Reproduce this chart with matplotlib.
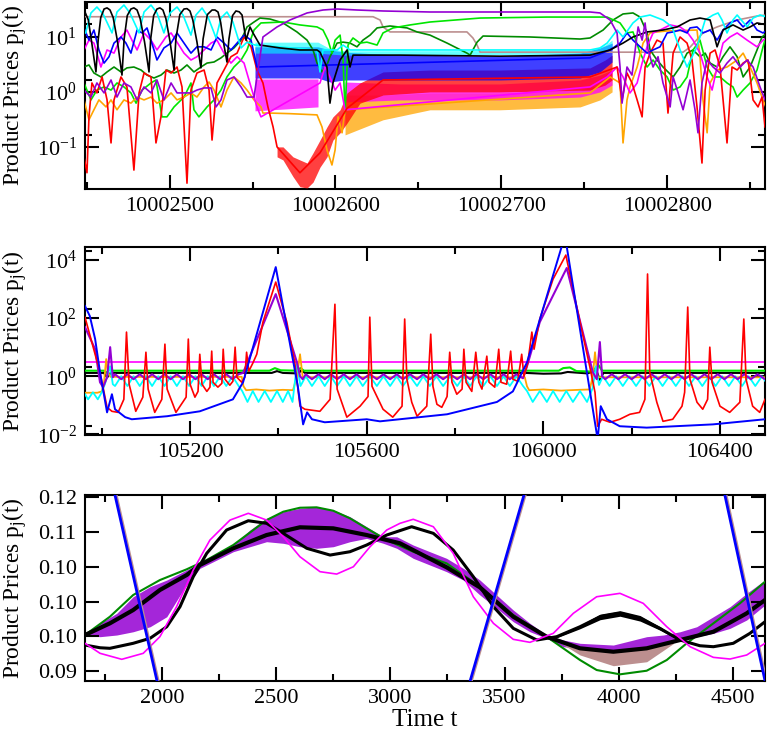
import numpy as np
import matplotlib
matplotlib.use('Agg')
import matplotlib.pyplot as plt
from matplotlib.ticker import (FixedLocator, FixedFormatter, MultipleLocator,
                               FormatStrFormatter, NullFormatter)

plt.rcParams['font.family'] = ['Liberation Serif', 'DejaVu Serif']
plt.rcParams['mathtext.fontset'] = 'custom'
plt.rcParams['mathtext.rm'] = 'Liberation Serif'
plt.rcParams['mathtext.it'] = 'Liberation Serif:italic'

# xmgrace-like colours
BLACK, RED, LIME, BLUE = 'black', '#ff0000', '#00e600', '#0000ff'
ROSY, PURPLE, CYAN, MAGENTA = '#bc8f8f', '#9400d3', '#00ffff', '#ff00ff'
ORANGE, DKGREEN = '#ffa500', '#008b00'

# ---------------- panel 1 : t = T0 + offset, prices (log) ----------------
T0 = 10002400
p1_rosy = np.array([(49, 22.8), (222.7, 22.8), (226.9, 19.9), (228.7, 14.9), (232.9, 12.1),
                    (279.3, 12.1), (282.9, 9.4), (285.4, 7.0), (287.2, 5.2), (409.6, 5.2),
                    (413.8, 6.4), (421.6, 11.6), (430.1, 14.9), (442.2, 19.9), (454.2, 23.5),
                    (460.2, 24.5)])
p1_purple = np.array([(48.4, 1.07), (52.6, 0.80), (56.2, 1.44), (60.5, 0.95), (64.7, 1.63),
                      (68.3, 0.80), (72.5, 1.44), (76.7, 1.22), (80.4, 0.71), (84.6, 1.22),
                      (88.8, 0.95), (92.4, 1.63), (96.6, 0.71), (100.9, 1.44), (104.5, 0.95),
                      (108.7, 0.95), (112.9, 0.95), (116.5, 1.07), (120.8, 1.17), (125, 1.17),
                      (128, 0.53), (131, 0.71), (134.6, 1.63), (138.8, 1.85), (143.1, 1.22),
                      (146.7, 0.80), (150.9, 0.80), (153.3, 2.47), (156.3, 9.8), (164.8, 14.9),
                      (172.6, 19.9), (182.9, 26.7), (192.5, 30.2), (201, 31.5), (213, 30.2),
                      (228.7, 29.0), (257, 27.8), (353.5, 27.8), (359.5, 26.7), (365.6, 19.9),
                      (369.8, 11.6), (371.6, 2.8), (372.8, 0.62), (375.8, 2.8), (378.8, 2.0),
                      (382.5, 14.9), (384.9, 8.6), (386.7, 17.6), (388.5, 5.7), (391.5, 2.8),
                      (394.5, 4.3), (397.5, 1.44), (401.8, 0.53), (403.6, 1.85), (406.6, 0.95),
                      (409.6, 0.47), (413.8, 1.63), (416.8, 0.47), (418.6, 0.18), (421, 1.44),
                      (424.1, 3.75), (427.7, 2.8), (431.9, 2.18), (436.1, 3.3), (439.7, 4.3),
                      (444, 2.8), (448.2, 3.75), (451.8, 2.8), (456, 1.22), (459, 0.71)])
p1_dkgreen = np.array([(48.4, 2.8), (51.4, 3.05), (54.4, 2.18), (58.6, 1.85), (62.3, 2.28),
                       (66.5, 2.8), (70.7, 2.28), (74.3, 2.7), (78.5, 2.8), (82.8, 2.47),
                       (86.4, 2.0), (90.6, 1.77), (94.8, 2.0), (98.4, 2.47), (102.7, 2.18),
                       (106.9, 2.47), (110.5, 3.05), (114.7, 2.28), (118.9, 2.8), (122.6, 3.3),
                       (126.8, 3.45), (131, 4.1), (134.6, 5.0), (138.8, 6.2), (143.1, 8.6),
                       (146.7, 14.9), (150.9, 18.3), (154.5, 21.6), (160.6, 20.7), (168.4, 17.6),
                       (176.8, 12.1), (182.9, 8.6), (186.5, 5.7), (188.9, 3.3), (191.9, 2.28),
                       (194.9, 3.05), (196.7, 4.3), (201, 7.6), (204.6, 7.9), (208.8, 7.6),
                       (213, 6.5), (216.6, 8.6), (220.9, 10.6), (225.1, 14.3), (232.9, 15.5),
                       (243.2, 14.3), (249.2, 12.1), (257, 10.6), (267.3, 7.6), (279.3, 5.0),
                       (281.2, 4.6), (285.4, 7.9), (289, 10.2), (317.3, 9.8), (347.5, 9.0),
                       (353.5, 9.4), (361.4, 13.1), (367.4, 19.9), (373.4, 25.6), (379.4, 26.7),
                       (383.7, 22.5), (387.9, 11.6), (389.7, 5.7), (393.9, 3.75), (397.5, 2.8),
                       (403.6, 1.85), (407.8, 2.8), (412, 5.0), (415.6, 5.7), (419.8, 4.3),
                       (422.9, 5.0), (425.9, 3.3), (430.1, 2.8), (433.7, 4.3), (437.9, 6.5),
                       (442.2, 4.3), (445.8, 1.85), (450, 2.8), (454.2, 5.7), (457.2, 9.8),
                       (460.2, 11.6)])
p1_lime = np.array([(48.4, 1.44), (52.6, 0.71), (56.2, 1.07), (60.5, 1.22), (64.7, 1.07),
                    (68.3, 1.44), (72.5, 1.22), (76.7, 0.95), (79.8, 0.62), (83.4, 1.07),
                    (88.8, 1.44), (91.8, 1.63), (95.4, 0.35), (98.4, 0.35), (102.7, 0.53),
                    (108.7, 0.80), (112.9, 1.44), (114.7, 0.47), (117.7, 0.35), (122.6, 0.53),
                    (126.8, 0.71), (131, 1.07), (134.6, 1.85), (138.8, 2.8), (143.1, 3.75),
                    (146.7, 5.7), (150.9, 13.1), (155.1, 17.6), (168.4, 18.3), (178.6, 16.2),
                    (188.9, 14.9), (192.5, 13.1), (195.5, 8.6), (197.9, 5.0), (199.8, 8.6),
                    (202.8, 10.6), (204.6, 3.75), (205.8, 0.41), (207.6, 7.0), (210.6, 9.4),
                    (214.8, 7.6), (219, 7.9), (225.1, 7.0), (228.7, 11.6), (234.7, 14.3),
                    (245, 16.2), (257, 18.3), (287.2, 21.6), (327.6, 22.5), (363.8, 22.5),
                    (371.6, 17.6), (375.8, 11.6), (379.4, 12.1), (383.7, 5.0), (387.9, 2.8),
                    (391.5, 3.75), (395.7, 2.47), (400, 1.85), (403.6, 1.07), (407.8, 1.22),
                    (412, 1.85), (415.6, 5.7), (419.8, 8.6), (424.1, 2.8), (427.7, 1.85),
                    (431.9, 1.85), (436.1, 1.44), (439.7, 1.22), (442.2, 0.80), (445.8, 1.07),
                    (450, 1.44), (454.2, 2.47), (457.8, 6.5), (460.2, 11.6)])
p1_black = np.array([(49, 27.8), (51, 20.0), (53, 8.0), (55.6, 2.28), (57, 9.0), (58.5, 22.0),
                     (60.5, 31.5), (62.3, 33.0), (64.1, 30.2), (66, 22.0), (68.5, 8.5),
                     (71.3, 2.0), (72.6, 9.0), (74.5, 24.0), (76.7, 31.5), (78.5, 33.0),
                     (80.4, 30.2), (82.3, 21.0), (84.9, 8.0), (87.6, 2.28), (88.6, 9.0),
                     (90.4, 24.0), (92.4, 31.5), (94.2, 33.0), (96, 30.2), (97.8, 21.0),
                     (100.3, 8.0), (102.7, 2.47), (103.8, 9.0), (106.2, 25.0), (108.7, 31.5),
                     (110.5, 32.0), (112.3, 29.0), (114, 20.0), (116.5, 8.0), (118.9, 2.7),
                     (120.2, 9.0), (122.8, 25.0), (125.6, 30.2), (127.4, 30.2), (129.2, 27.8),
                     (130.8, 18.0), (132.8, 7.0), (134.6, 3.45), (135.8, 9.0), (138, 24.0),
                     (140, 29.0), (142, 28.0), (143.7, 24.5), (146.1, 8.6), (148.5, 14.9),
                     (150.3, 11.6), (154.5, 7.0), (166.6, 6.2), (178.6, 5.7), (188.9, 5.7),
                     (190.7, 5.2), (194.9, 2.8), (196.7, 0.62), (198.5, 1.44), (202.8, 3.75),
                     (207, 5.7), (208.8, 2.8), (210.6, 4.6), (239, 4.6), (299.2, 4.4),
                     (353.5, 4.6), (365.6, 5.7), (373.4, 7.6), (379.4, 9.8), (387.9, 12.1),
                     (397.5, 13.1), (406, 14.9), (413.8, 19.9), (419.8, 21.6), (425.9, 19.9),
                     (430.1, 6.5), (433.7, 13.1), (439.7, 16.2), (445.8, 13.1), (450, 14.9),
                     (454.2, 17.6), (460.2, 16.2)])
p1_cyan = np.array([(49.4, 11.6), (52.6, 26.7), (56.2, 34.2), (59.9, 25.6), (65.3, 11.6),
                    (68.3, 27.8), (72.5, 37.2), (76.1, 26.7), (81.6, 11.6), (84.6, 27.8),
                    (88.8, 37.2), (92.4, 26.7), (96.6, 11.6), (100.3, 26.7), (104.5, 34.2),
                    (108.1, 24.5), (112.9, 10.6), (115.9, 24.5), (119.6, 32.8), (123.2, 22.5),
                    (128, 9.4), (131, 21.6), (134.6, 27.8), (138.2, 18.3), (143.1, 6.2),
                    (146.7, 7.9), (151.5, 7.0), (188.9, 5.7), (190.7, 2.28), (192.5, 5.7),
                    (201, 5.7), (204.6, 7.0), (208.8, 5.7), (353.5, 5.7), (359.5, 6.2),
                    (363.8, 7.6), (369.8, 13.1), (373.4, 9.8), (379.4, 17.6), (383.7, 22.5),
                    (389.7, 24.5), (397.5, 19.9), (403, 14.9), (407.8, 5.7), (412, 2.8),
                    (418, 6.5), (422.9, 19.9), (427.7, 24.5), (430.7, 26.7), (433.1, 19.9),
                    (436.1, 11.6), (439.7, 19.9), (442.2, 24.5), (448.2, 14.9), (451.8, 21.6),
                    (456, 24.5), (460.2, 22.5)])
p1_blue = np.array([(48.4, 14.3), (51.4, 8.6), (54.4, 13.1), (57.4, 5.7), (60.5, 3.3), (63.5, 4.3),
                    (66.5, 7.6), (70.7, 9.8), (73.7, 7.6), (76.7, 5.0), (80.4, 13.1), (83.4, 11.6),
                    (86.4, 14.3), (90.6, 5.7), (92.4, 3.75), (96.6, 6.2), (100.9, 7.6),
                    (104.5, 11.6), (108.7, 7.6), (112.9, 5.0), (116.5, 6.5), (120.8, 6.5),
                    (125, 5.7), (128.6, 9.8), (132.8, 7.6), (137, 5.7), (140.7, 7.6),
                    (144.9, 10.6), (149.1, 8.6), (152.7, 2.8), (353.5, 4.1), (365.6, 5.7),
                    (371.6, 7.6), (375.8, 11.6), (379.4, 8.6), (383.7, 6.5), (387.9, 5.0),
                    (391.5, 5.7), (395.7, 6.5), (400, 11.6), (403.6, 12.1), (407.8, 13.1),
                    (412, 11.6), (413.8, 14.3), (418, 14.9), (421.6, 11.6), (425.9, 13.1),
                    (430.1, 8.6), (433.7, 13.1), (437.9, 17.6), (442.2, 19.9), (445.8, 14.9),
                    (450, 19.9), (454.2, 13.1), (457.8, 11.6), (460.2, 13.1)])
p1_magenta = np.array([(48.4, 5.7), (51.4, 8.6), (54.4, 7.6), (58.6, 2.8), (62.3, 5.7), (66.5, 5.0),
                       (70.7, 9.8), (74.3, 13.1), (77.3, 8.6), (80.4, 5.7), (84.6, 11.6),
                       (88.8, 8.6), (92.4, 5.7), (97.8, 9.8), (100.9, 11.6), (104.5, 7.9),
                       (108.7, 5.0), (112.9, 3.75), (116.5, 4.3), (120.8, 5.7), (125, 7.6),
                       (128.6, 8.6), (132.8, 5.0), (137, 3.3), (140.7, 4.3), (144.9, 3.3),
                       (149.1, 1.22), (152.7, 0.53), (155.1, 0.35), (190.7, 1.44), (193.7, 2.8),
                       (196.7, 1.85), (199.8, 1.07), (202.8, 1.44), (205.8, 0.47), (353.5, 1.22),
                       (363.8, 1.85), (369.8, 2.8), (373.4, 1.85), (377.6, 0.95), (381.9, 1.44),
                       (384.9, 3.3), (387.9, 6.5), (391.5, 11.6), (395.7, 13.1), (401.8, 16.2),
                       (407.8, 14.9), (412, 12.1), (415.6, 8.6), (419.8, 5.0), (424.1, 1.85),
                       (427.1, 1.07), (430.1, 2.8), (433.7, 7.6), (437.9, 9.8), (442.2, 11.6),
                       (448.2, 8.6), (454.2, 6.5), (457.8, 8.6), (460.2, 9.4)])
p1_orange = np.array([(48.4, 0.71), (51.4, 0.31), (54.4, 0.47), (57.4, 0.71), (61.7, 0.53),
                      (64.7, 0.71), (68.3, 0.47), (72.5, 0.71), (76.7, 0.62), (80.4, 0.80),
                      (84.6, 0.71), (88.8, 0.80), (92.4, 0.62), (96.6, 0.71), (100.9, 0.95),
                      (104.5, 0.71), (108.7, 0.80), (112.9, 0.95), (116.5, 0.80), (120.8, 1.22),
                      (123.8, 1.5), (126.8, 1.07), (131, 0.53), (134.6, 1.07), (138.8, 1.85),
                      (143.1, 1.44), (146.7, 1.07), (150.9, 0.71), (155.1, 0.53), (156.3, 0.41),
                      (160.6, 0.41), (172.6, 0.40), (188.9, 0.38), (191.9, 0.23), (194.9, 0.088),
                      (197.9, 0.047), (199.8, 0.088), (201.6, 0.35), (204, 0.18), (205.8, 0.47),
                      (353.5, 0.95), (365.6, 1.85), (371.6, 1.44), (373.4, 0.118), (375.8, 0.71),
                      (377.6, 1.22), (381.9, 2.8), (385.5, 7.6), (389.7, 11.6), (393.9, 12.1),
                      (400, 12.6), (418, 13.1), (419.8, 4.3), (421.6, 0.71), (424.1, 0.18),
                      (425.9, 1.44), (430.1, 2.47), (436.1, 2.8), (442.2, 3.75), (445.8, 5.0),
                      (450, 2.8), (454.2, 1.44), (457.8, 0.71), (460.2, 0.47)])
p1_red = np.array([(48.4, 0.066), (50.2, 0.034), (51.4, 0.35), (53.2, 1.44), (56.2, 0.95),
                   (59.3, 1.85), (62.3, 0.71), (64.7, 0.118), (66.5, 0.71), (70.7, 1.85),
                   (74.3, 1.22), (78.5, 0.038), (81.6, 0.95), (84.6, 2.18), (88.8, 1.85),
                   (91.8, 0.118), (94.8, 0.35), (97.8, 2.47), (100.9, 2.18), (104.5, 2.8),
                   (107.5, 1.22), (110.5, 0.022), (112.9, 1.07), (116.5, 2.18), (120.8, 2.47),
                   (123.8, 1.07), (125.6, 0.133), (128.6, 1.44), (132.8, 2.47), (137, 4.3),
                   (140.7, 5.0), (144.9, 9.8), (149.1, 6.5), (152.7, 2.47), (156.3, 1.44),
                   (159.3, 0.53), (162.4, 0.23), (164.8, 0.10), (178.6, 0.034), (190.7, 0.078),
                   (207, 0.50), (228.7, 1.63), (353.5, 1.85), (369.8, 2.8), (372.8, 0.71),
                   (375.8, 2.18), (378.8, 1.44), (381.9, 0.71), (384.9, 0.35), (386.7, 2.8),
                   (389.7, 5.0), (393.9, 8.6), (397.5, 7.6), (400.5, 0.41), (403.6, 5.0),
                   (407.8, 9.8), (412, 7.6), (415, 3.75), (418, 0.53), (421, 0.051),
                   (422.9, 1.07), (425.9, 5.0), (428.9, 5.7), (431.9, 2.8), (436.1, 0.118),
                   (439.1, 2.8), (442.2, 2.47), (445.8, 3.3), (448.8, 3.75), (451.8, 0.71),
                   (454.8, 0.53), (457.2, 0.80), (459, 0.23)])
# rapidly oscillating stretches: (offset, lower envelope, upper envelope)
p1_band_orange = np.array([(205.8, 0.165, 0.87), (228.7, 0.31, 0.87), (257, 0.47, 0.95),
                           (299.2, 0.47, 0.95), (347.5, 0.53, 1.07), (359.5, 0.71, 1.32),
                           (366.8, 0.99, 1.77)])
p1_band_mag_a = np.array([(151.5, 0.45, 1.7), (189.5, 0.53, 1.7)])
p1_band_mag_b = np.array([(205.8, 0.65, 1.5), (239, 0.71, 1.38), (299.2, 0.71, 1.38),
                          (347.5, 0.80, 1.63), (359.5, 0.99, 2.0), (366.8, 1.32, 2.47)])
p1_band_red = np.array([(164.8, 0.066, 0.10), (168.4, 0.058, 0.10), (174.4, 0.029, 0.066),
                        (178.6, 0.019, 0.058), (182.9, 0.018, 0.051), (186.5, 0.023, 0.078),
                        (190.7, 0.043, 0.133), (194.9, 0.066, 0.23), (198.5, 0.133, 0.35),
                        (202.8, 0.18, 0.47), (207, 0.27, 0.95), (214.8, 0.62, 1.44),
                        (228.7, 0.87, 2.28), (257, 0.99, 2.47), (299.2, 0.99, 2.47),
                        (353.5, 1.07, 2.7), (362.6, 1.32, 3.75), (366.8, 1.63, 4.6)])
p1_band_blue = np.array([(151.5, 1.77, 6.5), (189.5, 1.77, 6.5), (196.7, 1.5, 5.7),
                         (205.8, 1.63, 5.2), (239, 1.63, 4.6), (299.2, 1.63, 4.4),
                         (347.5, 1.77, 5.0), (359.5, 2.28, 6.2), (366.8, 3.45, 7.6)])
p1_band_cyan = np.array([(151.5, 5.0, 7.9), (189.5, 5.0, 7.9), (196.7, 4.8, 6.0),
                         (205.8, 4.6, 5.5), (353.5, 4.8, 5.6), (362.6, 5.6, 7.0),
                         (366.8, 6.6, 8.6)])

# ---------------- panel 2 ----------------
p2_magenta = np.array([(104962, 3.1), (106502, 3.1)])
p2_green = np.array([(104962, 1.55), (105005, 1.55), (105012, 1.3), (105018, 1.9), (105025, 1.55),
                     (105380, 1.55), (105392, 1.9), (105405, 1.6), (105440, 1.55), (105450, 1.9),
                     (105458, 1.55), (106035, 1.55), (106045, 1.9), (106060, 2.0), (106075, 1.5),
                     (106110, 1.45), (106125, 2.4), (106133, 1.55), (106502, 1.55)])
p2_black = np.array([(104962, 1.3), (105005, 1.3), (105012, 0.9), (105020, 1.3), (105385, 1.3),
                     (105397, 1.5), (105410, 1.3), (105445, 1.25), (105452, 1.6), (105460, 1.3),
                     (105960, 1.3), (106000, 1.22), (106040, 1.25), (106055, 1.4), (106100, 1.25),
                     (106120, 1.6), (106128, 0.75), (106136, 1.3), (106502, 1.3)])
p2_orange = np.array([(104962, 0.27), (104990, 0.27), (105000, 0.30), (105005, 0.6), (105010, 3.9),
                      (105014, 1.37), (105020, 0.95), (105317, 0.95), (105321, 0.45),
                      (105327, 0.33), (105350, 0.35), (105380, 0.32), (105410, 0.34),
                      (105433, 0.33), (105442, 1.0), (105449, 5.7), (105455, 0.92),
                      (105958, 0.92), (105963, 0.45), (105968, 0.33), (106000, 0.35),
                      (106040, 0.32), (106080, 0.34), (106105, 0.35), (106112, 1.0),
                      (106117, 6.7), (106123, 0.92), (106502, 0.92)])
p2_cyan = np.array([
    (104962, 0.24), (104969, 0.16), (104980, 0.28), (104991, 0.16), (105000, 0.28), (105007, 0.53),
    (105019, 2.2), (105025, 0.53),
    (105030, 0.46), (105044, 1.0), (105058, 0.46), (105072, 1.0), (105086, 0.46), (105100, 1.0),
    (105114, 0.46), (105128, 1.0), (105142, 0.46), (105156, 1.0), (105170, 0.46), (105184, 1.0),
    (105198, 0.46), (105212, 1.0), (105226, 0.46), (105240, 1.0), (105254, 0.46), (105268, 1.0),
    (105282, 0.46), (105296, 1.0), (105310, 0.46),
    (105318, 0.31), (105330, 0.13), (105342, 0.31), (105355, 0.13), (105369, 0.31), (105383, 0.13),
    (105397, 0.31), (105410, 0.13), (105422, 0.31), (105432, 0.13), (105442, 2.6), (105450, 0.46),
    (105462, 1.0), (105476, 0.46), (105491, 1.0), (105505, 0.46), (105519, 1.0), (105533, 0.46),
    (105548, 1.0), (105562, 0.46), (105577, 1.0), (105591, 0.46), (105607, 1.0), (105623, 0.46),
    (105638, 1.0), (105653, 0.46), (105668, 1.0), (105682, 0.46), (105698, 1.0), (105714, 0.46),
    (105728, 1.0), (105743, 0.46), (105758, 1.0), (105773, 0.46), (105789, 1.0), (105805, 0.46),
    (105820, 1.0), (105834, 0.46), (105849, 1.0), (105864, 0.46), (105880, 1.0), (105895, 0.46),
    (105910, 1.0), (105924, 0.46), (105939, 1.0), (105954, 0.46),
    (105963, 0.31), (105976, 0.13), (105992, 0.31), (106008, 0.13), (106022, 0.31), (106037, 0.13),
    (106052, 0.31), (106067, 0.13), (106083, 0.31), (106099, 0.13), (106112, 0.4), (106119, 2.2),
    (106126, 0.5),
    (106135, 1.0), (106150, 0.46), (106165, 1.0), (106180, 0.46), (106195, 1.0), (106210, 0.46),
    (106225, 1.0), (106240, 0.46), (106255, 1.0), (106270, 0.46), (106285, 1.0), (106300, 0.46),
    (106315, 1.0), (106330, 0.46), (106345, 1.0), (106360, 0.46), (106375, 1.0), (106390, 0.46),
    (106405, 1.0), (106420, 0.46), (106435, 1.0), (106450, 0.46), (106465, 1.0), (106480, 0.46),
    (106495, 1.0), (106502, 0.7)])
p2_purple = np.array([
    (104962, 49), (104985, 8.5), (104996, 0.62), (105003, 0.42), (105012, 0.92), (105019, 10),
    (105025, 0.92),
    (105030, 1.17), (105044, 0.79), (105058, 1.17), (105072, 0.79), (105086, 1.17), (105100, 0.79),
    (105114, 1.17), (105128, 0.79), (105142, 1.17), (105156, 0.79), (105170, 1.17), (105184, 0.79),
    (105198, 1.17), (105212, 0.79), (105226, 1.17), (105240, 0.79), (105254, 1.17), (105268, 0.79),
    (105282, 1.17), (105296, 0.79), (105310, 1.17), (105320, 1.3),
    (105394, 670), (105442, 3.0), (105449, 1.0), (105455, 0.79),
    (105462, 1.17), (105476, 0.79), (105491, 1.17), (105505, 0.79), (105519, 1.17), (105533, 0.79),
    (105548, 1.17), (105562, 0.79), (105577, 1.17), (105591, 0.79), (105607, 1.17), (105623, 0.79),
    (105638, 1.17), (105653, 0.79), (105668, 1.17), (105682, 0.79), (105698, 1.17), (105714, 0.79),
    (105728, 1.17), (105743, 0.79), (105758, 1.17), (105773, 0.79), (105789, 1.17), (105805, 0.79),
    (105820, 1.17), (105834, 0.79), (105849, 1.17), (105864, 0.79), (105880, 1.17), (105895, 0.79),
    (105910, 1.17), (105924, 0.79), (105939, 1.17), (105954, 0.85),
    (105963, 2.2), (105992, 73), (106053, 5300), (106112, 1.37), (106121, 0.79), (106128, 15),
    (106133, 1.0),
    (106140, 0.79), (106155, 1.17), (106170, 0.79), (106185, 1.17), (106200, 0.79), (106215, 1.17),
    (106230, 0.79), (106245, 1.17), (106260, 0.79), (106275, 1.17), (106290, 0.79), (106305, 1.17),
    (106320, 0.79), (106335, 1.17), (106350, 0.79), (106365, 1.17), (106380, 0.79), (106395, 1.17),
    (106410, 0.79), (106425, 1.17), (106440, 0.79), (106455, 1.17), (106470, 0.79), (106485, 1.17),
    (106502, 0.79)])
p2_red = np.array([
    (104962, 108), (104996, 1.37), (105012, 0.085), (105023, 0.062), (105037, 0.057), (105050, 0.16),
    (105056, 33), (105062, 0.53), (105077, 0.062), (105093, 0.19), (105100, 6.7), (105105, 0.36),
    (105120, 0.057), (105136, 0.16), (105143, 12.7), (105148, 0.36), (105168, 0.057), (105191, 0.19),
    (105196, 19), (105200, 0.53), (105211, 0.19), (105218, 0.30), (105222, 5.7), (105227, 0.53),
    (105238, 0.30), (105245, 0.42), (105249, 7.3), (105252, 0.62), (105263, 0.42), (105272, 0.57),
    (105275, 8.5), (105279, 0.79), (105290, 0.49), (105297, 0.67), (105302, 10), (105306, 0.92),
    (105317, 0.62), (105324, 0.92), (105328, 6.7), (105333, 1.49), (105342, 2.8), (105351, 5.7),
    (105365, 73), (105394, 1740), (105419, 73), (105437, 3.0), (105449, 0.093), (105460, 0.073),
    (105494, 0.062), (105517, 0.16), (105528, 300), (105533, 0.36), (105555, 0.039), (105585, 0.093),
    (105603, 0.20), (105607, 108), (105612, 0.45), (105637, 0.073), (105659, 0.039), (105680, 0.093),
    (105686, 93), (105691, 0.79), (105702, 0.127), (105714, 0.042), (105736, 0.093), (105745, 28),
    (105750, 0.45), (105759, 0.108), (105770, 0.085), (105782, 0.20), (105788, 6.7), (105793, 0.62),
    (105804, 0.24), (105816, 0.36), (105820, 8.5), (105825, 0.62), (105838, 0.30), (105847, 6.7),
    (105854, 0.62), (105861, 0.36), (105872, 4.9), (105877, 0.62), (105890, 0.42), (105899, 8.5),
    (105904, 0.62), (105917, 0.53), (105926, 7.3), (105931, 0.79), (105942, 0.67), (105951, 5.7),
    (105956, 1.0), (105965, 3.0), (105974, 33), (105979, 8.5), (105992, 93), (106022, 2200),
    (106051, 14800), (106083, 73), (106105, 2.2), (106117, 0.28), (106123, 0.019), (106132, 0.033),
    (106151, 0.026), (106173, 0.033), (106196, 0.049), (106218, 0.057), (106230, 0.16),
    (106236, 3300), (106241, 1.37), (106257, 0.127), (106271, 0.028), (106293, 0.033),
    (106314, 0.093), (106320, 0.28), (106327, 240), (106332, 0.79), (106348, 0.127),
    (106361, 0.073), (106372, 0.16), (106377, 10), (106382, 0.62), (106400, 0.093),
    (106422, 0.057), (106445, 0.127), (106454, 93), (106459, 0.79), (106474, 0.093),
    (106490, 0.057), (106502, 0.16)])
p2_blue = np.array([
    (104962, 260), (104973, 117), (104985, 19), (104996, 1.37), (105012, 0.057), (105023, 0.24),
    (105030, 0.073), (105053, 0.039), (105068, 0.033), (105148, 0.042), (105222, 0.062),
    (105297, 0.16), (105320, 0.62), (105394, 5700), (105444, 0.45), (105456, 0.022),
    (105465, 0.057), (105476, 0.033), (105505, 0.026), (105600, 0.033), (105630, 0.028),
    (105782, 0.049), (105895, 0.13), (105931, 0.30), (105963, 3.0), (106049, 69000),
    (106123, 0.0067), (106130, 0.093), (106144, 0.033), (106173, 0.019), (106234, 0.017),
    (106384, 0.022), (106502, 0.033)])

# ---------------- panel 3 ----------------
p3_magenta = np.array([(1663, 0.09401), (1729, 0.09257), (1824, 0.09171), (1918, 0.09257),
                       (1991, 0.09496), (2064, 0.09927), (2137, 0.10454), (2210, 0.10885),
                       (2298, 0.11172), (2378, 0.11269), (2458, 0.11172), (2531, 0.10932),
                       (2604, 0.10645), (2692, 0.10430), (2765, 0.10396), (2838, 0.10501),
                       (2911, 0.10789), (2984, 0.11029), (3042, 0.11125), (3100, 0.11183),
                       (3188, 0.11076), (3275, 0.10694), (3363, 0.10070), (3451, 0.09688),
                       (3538, 0.09458), (3611, 0.09415), (3713, 0.09544), (3801, 0.09832),
                       (3903, 0.10070), (4005, 0.10119), (4107, 0.09975), (4210, 0.09639),
                       (4312, 0.09352), (4414, 0.09199), (4487, 0.09175), (4560, 0.09233),
                       (4640, 0.09401)])
p3_black_b = np.array([(1663, 0.09376), (1729, 0.09337), (1772, 0.09329), (1874, 0.09401),
                       (1948, 0.09473), (2021, 0.09639), (2079, 0.09927), (2137, 0.10358),
                       (2196, 0.10694), (2283, 0.11029), (2378, 0.11162), (2458, 0.11125),
                       (2531, 0.10981), (2634, 0.10766), (2736, 0.10669), (2823, 0.10717),
                       (2896, 0.10813), (2984, 0.10957), (3093, 0.11076), (3188, 0.10981),
                       (3275, 0.10741), (3363, 0.10358), (3451, 0.09927), (3538, 0.09616),
                       (3641, 0.09448), (3728, 0.09496), (3830, 0.09639), (3918, 0.09783),
                       (4005, 0.09832), (4093, 0.09760), (4180, 0.09616), (4268, 0.09448),
                       (4355, 0.09366), (4414, 0.09352), (4501, 0.09401), (4574, 0.09544),
                       (4640, 0.09711)])
p3_black_bulge = np.array([(3728, 0.0948, 0.0951), (3830, 0.0961, 0.0966), (3918, 0.0974, 0.0982),
                           (4005, 0.0979, 0.0987), (4093, 0.0972, 0.0980), (4180, 0.0959, 0.0964),
                           (4268, 0.0944, 0.0945)])
p3_black_c = np.array([(1663, 0.09520), (1772, 0.09688), (1874, 0.09879), (1991, 0.10167),
                       (2108, 0.10382), (2166, 0.10526), (2312, 0.10766), (2458, 0.10957),
                       (2604, 0.11068), (2750, 0.11053), (2896, 0.10957), (3042, 0.10838),
                       (3246, 0.10493), (3392, 0.10205), (3538, 0.09783), (3684, 0.09496),
                       (3830, 0.09329), (3976, 0.09280), (4122, 0.09329), (4268, 0.09448),
                       (4414, 0.09567), (4560, 0.09832), (4640, 0.10023)])
p3_green = np.array([(1663, 0.09520), (1772, 0.09783), (1874, 0.10095), (1991, 0.10310),
                     (2108, 0.10464), (2196, 0.10598), (2312, 0.10813), (2400, 0.11029),
                     (2458, 0.11172), (2531, 0.11292), (2604, 0.11349), (2677, 0.11355),
                     (2750, 0.11306), (2823, 0.11197), (2896, 0.11053), (2984, 0.10885),
                     (3100, 0.10717), (3246, 0.10550), (3392, 0.10214), (3538, 0.09807),
                     (3684, 0.09496), (3830, 0.09161), (3903, 0.09017), (4005, 0.08955),
                     (4122, 0.09007), (4210, 0.09161), (4297, 0.09401), (4414, 0.09688),
                     (4530, 0.09975), (4640, 0.10286)])
p3_purple_band = np.array([
    (1663, 0.0952, 0.0952), (1729, 0.09496, 0.09688), (1802, 0.09520, 0.09832),
    (1874, 0.09567, 0.10070), (1948, 0.09639, 0.10214), (2021, 0.09783, 0.10310),
    (2093, 0.10167, 0.10430), (2166, 0.10478, 0.10550), (2240, 0.10598, 0.10669),
    (2312, 0.10717, 0.10813), (2385, 0.10789, 0.11029), (2458, 0.10861, 0.11197),
    (2531, 0.10838, 0.11292), (2604, 0.10789, 0.11341), (2677, 0.10766, 0.11364),
    (2750, 0.10789, 0.11316), (2823, 0.10861, 0.11220), (2896, 0.10909, 0.11076),
    (2969, 0.10838, 0.10932), (3028, 0.10766, 0.10932), (3100, 0.10622, 0.10813),
    (3173, 0.10526, 0.10717), (3246, 0.10430, 0.10622), (3319, 0.10310, 0.10478),
    (3392, 0.10095, 0.10310), (3465, 0.09904, 0.10095), (3538, 0.09711, 0.09879),
    (3611, 0.09567, 0.09688), (3684, 0.09473, 0.09520), (3757, 0.09352, 0.09448),
    (3830, 0.09329, 0.09401), (3976, 0.09304, 0.09376), (4122, 0.09352, 0.09496),
    (4195, 0.09376, 0.09520), (4268, 0.09448, 0.09567), (4341, 0.09496, 0.09639),
    (4414, 0.09544, 0.09783), (4487, 0.09616, 0.09927), (4560, 0.09736, 0.10119),
    (4640, 0.09951, 0.10310)])
p3_rosy_band = np.array([(3713, 0.0947, 0.0947), (3830, 0.09233, 0.0933), (3976, 0.09079, 0.0928),
                         (4122, 0.09136, 0.0933), (4240, 0.0940, 0.0944)])
p3_blue = np.array([(1760, 0.1203), (2010, 0.0840), (3320, 0.0853), (3620, 0.1193),
                    (4440, 0.1190), (4660, 0.0856)])
p3_rosy = np.array([(1767, 0.1203), (2017, 0.0840), (3327, 0.0853), (3627, 0.1193),
                    (4447, 0.1190), (4667, 0.0856)])
p3_yticks = [0.09, 0.095, 0.10, 0.105, 0.11, 0.115]
p3_ylabels = ['0.09', '0.10', '0.10', '0.10', '0.11', '0.12']

YLABEL = 'Product Prices p$_{\\mathregular{j}}$(t)'


def style(ax):
    ax.tick_params(which='both', direction='in', top=True, right=True,
                   labelsize=16, width=1.5, pad=6)
    ax.tick_params(which='major', length=10)
    ax.tick_params(which='minor', length=5)
    for s in ax.spines.values():
        s.set_linewidth(1.5)
    ax.set_ylabel(YLABEL, fontsize=16.8, va='baseline')
    ax.yaxis.set_label_coords(-0.0956, 0.5)


def band(ax, arr, x0, color, z, alpha=0.75):
    ax.fill_between(arr[:, 0] + x0, arr[:, 1], arr[:, 2], color=color, lw=0,
                    alpha=alpha, zorder=z)


def line(ax, arr, x0, color, lw, z):
    ax.plot(arr[:, 0] + x0, arr[:, 1], color=color, lw=lw, zorder=z)


fig = plt.figure(figsize=(7.67, 7.36), dpi=100)
ax1 = fig.add_axes([0.1108, 0.7432, 0.8866, 0.2541])
ax2 = fig.add_axes([0.1108, 0.4090, 0.8866, 0.2554])
ax3 = fig.add_axes([0.1108, 0.0747, 0.8866, 0.2534])

# ---- panel 1
ax1.set_yscale('log')
band(ax1, p1_band_orange, T0, ORANGE, 1)
band(ax1, p1_band_mag_a, T0, MAGENTA, 2)
band(ax1, p1_band_mag_b, T0, MAGENTA, 2)
band(ax1, p1_band_red, T0, RED, 3)
band(ax1, p1_band_blue, T0, BLUE, 4)
band(ax1, p1_band_cyan, T0, CYAN, 5, alpha=0.6)
for arr, c in [(p1_rosy, ROSY), (p1_dkgreen, DKGREEN), (p1_lime, LIME), (p1_orange, ORANGE),
               (p1_magenta, MAGENTA), (p1_red, RED), (p1_blue, BLUE), (p1_cyan, CYAN),
               (p1_black, BLACK), (p1_purple, PURPLE)]:
    line(ax1, arr, T0, c, 1.2, 6)
ax1.set_xlim(T0 + 49, T0 + 459)
ax1.set_ylim(0.01726, 42.2)
ax1.xaxis.set_major_locator(MultipleLocator(100))
ax1.xaxis.set_minor_locator(MultipleLocator(50))
ax1.xaxis.set_major_formatter(FormatStrFormatter('%d'))
ax1.yaxis.set_major_locator(FixedLocator([0.1, 1, 10]))
ax1.yaxis.set_minor_locator(FixedLocator([0.0166, 0.166, 1.66, 16.6]))
ax1.yaxis.set_minor_formatter(NullFormatter())
style(ax1)

# ---- panel 2
ax2.set_yscale('log')
line(ax2, p2_magenta, 0, MAGENTA, 1.2, 2)
line(ax2, p2_black, 0, BLACK, 1.5, 3)
line(ax2, p2_green, 0, LIME, 1.5, 3)
line(ax2, p2_orange, 0, ORANGE, 1.3, 4)
line(ax2, p2_cyan, 0, CYAN, 1.3, 5)
line(ax2, p2_purple, 0, PURPLE, 1.5, 6)
line(ax2, p2_red, 0, RED, 1.2, 7)
line(ax2, p2_blue, 0, BLUE, 1.4, 8)
ax2.set_xlim(104962, 106502)
ax2.set_ylim(0.0095, 2.8e4)
ax2.xaxis.set_major_locator(MultipleLocator(400))
ax2.xaxis.set_minor_locator(MultipleLocator(200))
ax2.xaxis.set_major_formatter(FormatStrFormatter('%d'))
ax2.yaxis.set_major_locator(FixedLocator([1e-2, 1, 1e2, 1e4]))
ax2.yaxis.set_minor_locator(FixedLocator([2e-2, 2, 2e2, 2e4]))
ax2.yaxis.set_minor_formatter(NullFormatter())
style(ax2)

# ---- panel 3
band(ax3, p3_purple_band, 0, PURPLE, 1, alpha=0.85)
band(ax3, p3_rosy_band, 0, ROSY, 2, alpha=1.0)
line(ax3, p3_green, 0, DKGREEN, 1.5, 3)
line(ax3, p3_black_c, 0, BLACK, 3.0, 4)
band(ax3, p3_black_bulge, 0, BLACK, 5, alpha=1.0)
line(ax3, p3_black_b, 0, BLACK, 2.2, 5)
line(ax3, p3_magenta, 0, MAGENTA, 1.2, 6)
line(ax3, p3_rosy, 0, ROSY, 1.5, 7)
line(ax3, p3_blue, 0, BLUE, 2.0, 8)
ax3.set_xlim(1663, 4640)
ax3.set_ylim(0.08859, 0.11539)
ax3.xaxis.set_major_locator(MultipleLocator(500))
ax3.xaxis.set_minor_locator(MultipleLocator(250))
ax3.yaxis.set_major_locator(FixedLocator(p3_yticks))
ax3.yaxis.set_major_formatter(FixedFormatter(p3_ylabels))
style(ax3)
ax3.set_xlabel('Time t', fontsize=18)
ax3.xaxis.set_label_coords(0.5, -0.15)

fig.savefig('out.png', dpi=100)
